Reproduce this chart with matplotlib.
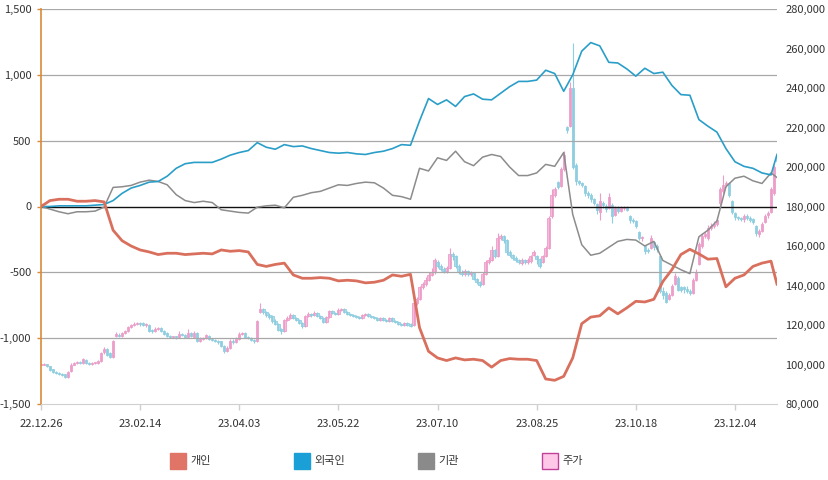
import numpy as np
import matplotlib
matplotlib.use('Agg')
import matplotlib.pyplot as plt
from matplotlib.patches import Rectangle
from matplotlib.ticker import FuncFormatter

# 한글 폰트
plt.rcParams['font.family'] = ['Noto Sans CJK KR', 'DejaVu Sans']
plt.rcParams['axes.unicode_minus'] = False

# x축: 거래일 인덱스, 33 거래일마다 라벨
date_labels = ['22.12.26', '23.02.14', '23.04.03', '23.05.22', '23.07.10', '23.08.25', '23.10.18', '23.12.04']
label_days = [0, 33, 66, 99, 132, 165, 198, 231]

# 누적 순매수 (3 거래일 간격으로 읽은 값)
line_days = list(range(0, 244, 3)) + [245]
retail = [0, 45, 55, 55, 40, 40, 45, 35, -180, -260, -300, -330, -345, -365, -355, -355, -365, -360, -355, -360,
          -330, -340, -335, -345, -440, -455, -440, -430, -520, -545, -545, -540, -545, -565, -560, -565, -580, -575, -560, -520,
          -530, -515, -920, -1100, -1150, -1170, -1150, -1165, -1160, -1170, -1220, -1170, -1155, -1160, -1160, -1170, -1310, -1320, -1290, -1150,
          -890, -840, -830, -770, -815, -770, -720, -725, -705, -570, -480, -365, -325, -360, -400, -395, -610, -545, -520, -455,
          -430, -415, -590]
foreign = [0, 0, 5, 5, 5, 5, 10, 15, 45, 100, 140, 160, 185, 190, 230, 290, 325, 335, 335, 335,
           360, 390, 410, 425, 485, 450, 435, 470, 455, 460, 440, 425, 410, 405, 410, 400, 395, 410, 420, 440,
           470, 465, 650, 820, 775, 810, 760, 835, 855, 815, 810, 860, 910, 950, 950, 960, 1035, 1010, 875, 1000,
           1180, 1245, 1220, 1095, 1090, 1045, 990, 1050, 1010, 1020, 920, 850, 845, 660, 610, 565, 440, 340, 305, 290,
           255, 240, 395]
inst = [0, -20, -40, -55, -40, -40, -35, -5, 145, 150, 160, 185, 200, 190, 165, 90, 45, 30, 40, 30,
        -25, -35, -45, -50, -5, 5, 10, -10, 70, 85, 105, 115, 140, 165, 160, 175, 185, 180, 140, 85,
        75, 55, 290, 270, 370, 350, 420, 340, 310, 375, 395, 380, 300, 235, 235, 255, 320, 305, 410, -60,
        -290, -370, -355, -310, -265, -250, -255, -300, -265, -410, -445, -480, -510, -230, -180, -110, 150, 215, 230, 195,
        175, 255, 220]

# 주가 (천원)
price_open = [100, 100, 100.5, 99, 97.5, 96, 95.5, 95, 95, 93.5,
              96.5, 100, 101, 101.5, 101, 102.5, 101, 100.5, 101, 101,
              102, 106.5, 108, 106, 104, 114.5, 115, 114.5, 116, 117,
              119, 120, 120.5, 121, 121, 120, 120, 117.5, 117, 118,
              118.5, 117, 116, 114.5, 114, 114, 113.8, 115.5, 115, 114,
              116, 114, 116, 112, 113, 113.5, 114.5, 113, 112.5, 112,
              112, 109.5, 107, 108.5, 112, 111.5, 113, 115.5, 116, 114,
              113.5, 112.5, 112, 126.5, 128, 126.5, 125, 124.5, 122, 120.5,
              118, 117, 122.5, 123.5, 125, 123.5, 122.5, 121, 119.5, 124.5,
              125.5, 125, 126, 124.5, 123.5, 121.5, 124, 127, 126, 125.5,
              127.5, 128, 126.5, 125.5, 125, 124.5, 124, 123.5, 125, 125.5,
              124.5, 124, 123.5, 122.5, 123.5, 122.5, 122, 123.5, 122, 121.5,
              120.5, 120, 121, 120.5, 120, 131, 133, 139, 141, 143,
              145.5, 147, 152, 150, 148.5, 147.5, 149, 156, 155, 150,
              147, 146, 147.5, 146, 146.5, 143.5, 142, 141, 146, 152,
              153, 158, 155, 164, 165, 163, 157, 155.5, 154, 153,
              151.5, 153, 152, 152.5, 155.5, 155, 153.5, 152, 155, 159,
              175, 186, 192.5, 190.5, 199, 220, 221, 240, 201, 193,
              192, 190.5, 187, 186, 184, 181.5, 177, 182, 180.5, 179,
              181, 175.5, 179, 177.5, 179, 179.5, 175, 173, 172.5, 167,
              164, 160, 158, 159, 162, 160, 155, 137, 136, 133,
              135, 141, 144, 139, 139, 138, 137, 136, 143, 151,
              160, 165, 164, 169, 170, 171, 182, 188, 191, 192,
              183, 176.5, 174.5, 174, 173.5, 175, 174, 173.5, 170, 166,
              167.5, 172, 175.5, 177, 187, 206]
price_close = [100, 100.5, 99, 97, 96, 95.5, 95, 94.5, 93.5, 96,
               100, 101, 101.5, 101, 103, 101, 100.5, 101, 101, 102,
               106, 108, 105, 104, 112, 115.5, 114.5, 116, 117, 119,
               120, 120.5, 121, 120.5, 120, 120.5, 117, 117, 118, 118.5,
               117, 115.5, 114.5, 114, 114, 113.8, 115.5, 115, 114, 116,
               114.5, 116, 112, 113, 113.5, 115, 113, 112.5, 112, 111.5,
               109.5, 107, 108.5, 112, 111.5, 113, 115.5, 116, 114, 113.5,
               112.5, 112, 122, 128, 126.5, 125, 124, 122, 120.5, 117.5,
               117, 122.5, 123.5, 125, 123.5, 122.5, 121, 119.5, 124.5, 125.5,
               125, 126, 124.5, 123.5, 121.5, 124, 127, 126, 125.5, 127.5,
               128, 126.5, 125.5, 125, 124.5, 124, 123.5, 125, 125.5, 124.5,
               124, 123.5, 122.5, 123.5, 122.5, 122, 123.5, 122, 121.5, 120.5,
               120, 121, 120, 119.5, 131, 133, 139, 141, 143, 145.5,
               147, 153, 150, 148.5, 147.5, 149, 156, 155, 150, 147,
               146, 147.5, 146, 146.5, 143.5, 142, 140.5, 146, 152, 153,
               158, 155, 164, 165, 163, 157, 155.5, 154, 153, 152,
               153, 152, 153, 155, 157, 153.5, 150, 155, 159, 174,
               186, 189, 190, 199, 206, 218.5, 240, 200, 193, 192,
               191, 187, 186, 184, 182, 178, 183, 181, 178.5, 185,
               175, 179, 177.5, 179, 179.5, 178, 173, 172.5, 170, 164,
               164, 157.5, 157.5, 164, 159.5, 158.5, 137, 135, 131.5, 135,
               140, 145, 137.5, 137.5, 138, 137, 136, 143, 147, 161,
               165, 166, 169, 170, 171, 173, 189, 191, 192, 186,
               177, 174.5, 174, 173.5, 175, 174, 173, 172, 166.5, 167.5,
               171, 175, 176.5, 189, 200, 203]
price_high = [100.5, 101, 100.5, 99, 97.5, 96.5, 96, 95.5, 95, 96.5,
              101, 101.5, 102, 102, 103.5, 103, 101.5, 101.5, 101.5, 102.5,
              106.5, 109, 108.5, 106.5, 112.5, 116.5, 116, 116.5, 117.5, 119.5,
              120.5, 121.5, 121.5, 121.5, 121.5, 121, 120.5, 118, 119, 119,
              119, 117.5, 116.5, 115, 114.5, 114.5, 117, 116, 115.5, 118,
              116.5, 117, 116.5, 114, 114, 115.5, 115, 113.5, 113, 112.5,
              112, 110, 109.5, 113, 113, 114, 116.5, 116.5, 116.5, 114.5,
              114, 113, 122.5, 131, 128.5, 127, 126, 125, 123, 121,
              118.5, 123, 124.5, 126, 125.5, 124, 123, 121.5, 125, 126.5,
              126, 127, 126.5, 125, 124, 124.5, 127.5, 127.5, 126.5, 128.5,
              128.5, 128.5, 127, 126, 125.5, 125, 124.5, 125.5, 126, 126,
              125, 124.5, 124, 124, 124, 123, 124, 124, 122.5, 122,
              121, 121.5, 121.5, 121, 132, 134, 140, 142, 144.5, 147,
              149, 154, 153, 151, 149.5, 150, 159, 157, 155.5, 151,
              148, 148.5, 148, 147.5, 147, 144, 142.5, 147, 153, 154.5,
              160, 158.5, 166.5, 166, 165.5, 163.5, 158, 156, 155, 153.5,
              154, 153.5, 154, 155.5, 158, 155.5, 154, 155.5, 160, 175,
              189, 190, 193, 200, 208, 221, 243, 263, 202, 193.5,
              192.5, 191, 188, 187, 184.5, 182, 187, 183, 181.5, 187,
              182, 180.5, 180, 180, 180.5, 180, 175.5, 174, 173, 167.5,
              165, 160.5, 159, 165.5, 162.5, 161, 155.5, 139, 137, 136,
              141, 146.5, 145, 140, 140, 139.5, 138, 144, 148.5, 162,
              166.5, 167, 170.5, 171.5, 172.5, 174, 190, 196, 193, 192.5,
              183.5, 177, 175, 174.5, 176, 176, 175, 174, 170.5, 168.5,
              172, 176, 177.5, 190, 201, 207]
price_low = [99.5, 99.5, 98.5, 96.5, 95.5, 95, 94.5, 94, 93, 93,
             96, 99.5, 100.5, 100.5, 100.5, 100.5, 100, 100, 100.5, 100.5,
             101.5, 105.5, 104.5, 103.5, 103.5, 114, 114, 114, 115.5, 116.5,
             118.5, 119.5, 120, 119.5, 119.5, 119, 116.5, 116, 116.5, 117.5,
             116.5, 115, 114, 113.5, 113.5, 113, 113.5, 114.5, 113.5, 113.5,
             114, 113.5, 111.5, 111.5, 112.5, 113, 112.5, 112, 111.5, 110.5,
             109, 106, 106.5, 108, 110.5, 111, 112.5, 115, 113.5, 113,
             112, 111, 111.5, 126, 125.5, 124, 123, 121, 120, 117,
             115.5, 116.5, 122, 123, 123, 122, 120.5, 118.5, 119, 124,
             124, 124.5, 124, 123, 121, 121, 123.5, 125.5, 125, 125,
             127, 126, 125, 124.5, 124, 123.5, 123, 123, 124.5, 124,
             123.5, 123, 122, 122, 122, 121.5, 121.5, 121.5, 121, 120,
             119.5, 119.5, 119.5, 119, 119.5, 130, 132.5, 138, 140, 142.5,
             145, 146, 149, 147.5, 146.5, 146.5, 148.5, 153, 149, 146,
             145, 145, 145, 145, 143, 141, 139, 140.5, 145.5, 151,
             152.5, 154, 154.5, 163, 161.5, 155.5, 154.5, 153, 152, 151,
             150.5, 151, 151, 151.5, 155, 151, 149, 151.5, 154.5, 158.5,
             174, 185, 189, 190, 198, 217, 220, 199, 191, 191,
             190, 185.5, 184.5, 182.5, 181, 176, 173, 179, 177, 178.5,
             171.5, 175, 176.5, 177, 178, 177.5, 171.5, 171.5, 169, 163,
             162.5, 156, 156.5, 158.5, 158, 157, 136, 133, 131, 132.5,
             134.5, 140.5, 137, 136.5, 136, 136, 135, 135.5, 142.5, 150.5,
             159, 164, 163, 168, 169, 170, 181, 187, 190, 185,
             176, 173, 173, 172.5, 172, 173, 172, 171, 165, 164.5,
             167, 171.5, 174, 176.5, 186, 201]

legend_names = ['개인', '외국인', '기관', '주가']

fig = plt.figure(figsize=(8.29, 4.8), dpi=100)
ax = fig.add_axes([41 / 829, 76 / 480, 736 / 829, 395 / 480])
ax2 = ax.twinx()
# 선은 캔들 위에 그리기
ax.set_zorder(ax2.get_zorder() + 1)
ax.patch.set_visible(False)

# 캔들
days = np.arange(len(price_close))
o = np.array(price_open) * 1000
c = np.array(price_close) * 1000
h = np.array(price_high) * 1000
l = np.array(price_low) * 1000
up = c >= o
body_low = np.minimum(o, c)
body_h = np.maximum(np.abs(c - o), 400)
for mask, face, edge in [(up, '#F8BCDC', '#EC9DC8'), (~up, '#AEDDEA', '#8FCEE0')]:
    ax2.vlines(days[mask], l[mask], h[mask], color=edge, lw=0.8)
    ax2.bar(days[mask], body_h[mask], bottom=body_low[mask], width=0.8,
            color=face, edgecolor=edge, linewidth=0.6)

ax2.set_ylim(80000, 280000)
ax2.set_yticks(range(80000, 280001, 20000))
ax2.yaxis.set_major_formatter(FuncFormatter(lambda v, p: '{:,.0f}'.format(v)))
ax2.tick_params(axis='y', length=0, pad=6, labelsize=8, labelcolor='#333333')
for s in ax2.spines.values():
    s.set_visible(False)

# 그리드
for g in [1500, 1000, 500, -500, -1000]:
    ax.axhline(g, color='#A8A8A8', lw=0.9, zorder=0.5)
ax.axhline(0, color='#111111', lw=1.0, zorder=0.6)

# 순매수 선
ax.plot(line_days, inst, color='#8C8C8C', lw=1.1, zorder=2)
ax.plot(line_days, foreign, color='#2A9EC8', lw=1.2, zorder=2)
ax.plot(line_days, retail, color='#D9705E', lw=2.0, zorder=3, solid_joinstyle='round')

ax.set_xlim(0, 245)
ax.set_ylim(-1500, 1500)
ax.set_yticks(range(-1500, 1501, 500))
ax.yaxis.set_major_formatter(FuncFormatter(lambda v, p: '{:,.0f}'.format(v)))
ax.tick_params(axis='y', color='#D98A3A', length=3, width=1, pad=4, labelsize=8, labelcolor='#333333')
ax.set_xticks(label_days)
ax.set_xticklabels(date_labels)
ax.tick_params(axis='x', color='#CFCFCF', length=4, width=1, pad=7, labelsize=8, labelcolor='#333333')

ax.spines['top'].set_visible(False)
ax.spines['right'].set_visible(False)
ax.spines['left'].set_color('#D98A3A')
ax.spines['left'].set_linewidth(1.2)
ax.spines['bottom'].set_color('#D0D0D0')

# 범례
legend_face = ['#E07466', '#1A9FD6', '#8A8A8A', '#FFC8E8']
legend_edge = ['#E07466', '#1A9FD6', '#8A8A8A', '#C0409A']
for k, name in enumerate(legend_names):
    x0 = 170 + 124 * k
    fig.add_artist(Rectangle((x0 / 829, 11 / 480), 16 / 829, 16 / 480, transform=fig.transFigure,
                             facecolor=legend_face[k], edgecolor=legend_edge[k], lw=1))
    fig.text((x0 + 20) / 829, 19 / 480, name, fontsize=8, color='#333333', va='center', ha='left')

fig.savefig('out.png', dpi=100)
